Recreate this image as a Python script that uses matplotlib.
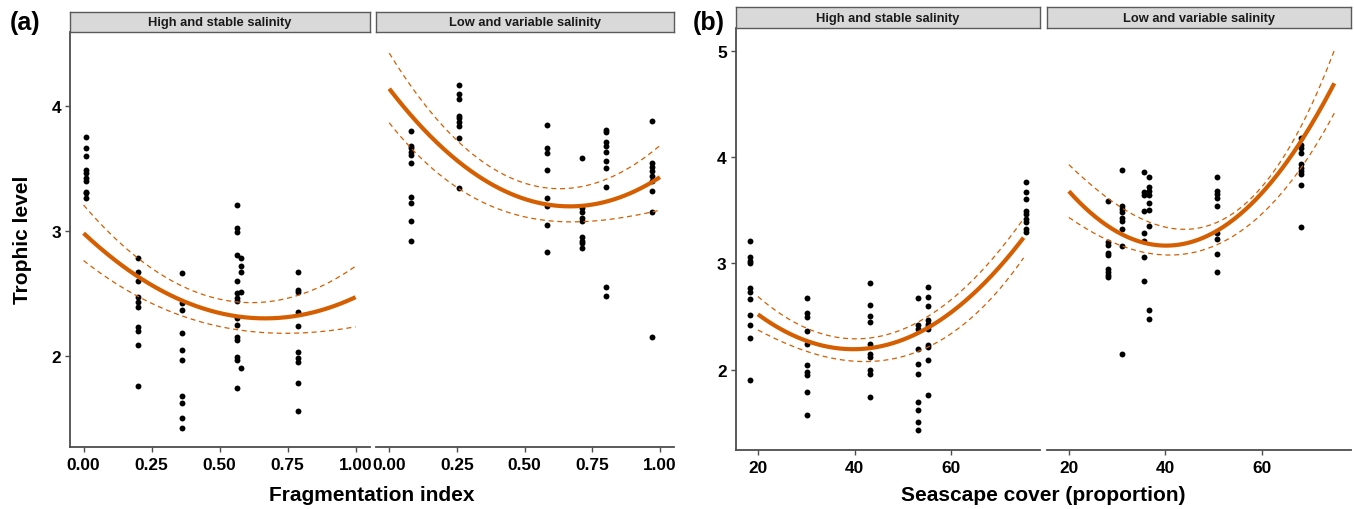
"""Trophic level vs fragmentation index and seascape cover, by salinity regime."""
import numpy as np
from matplotlib import pyplot as plt

plt.rcParams['font.family'] = ['Liberation Sans', 'DejaVu Sans']
plt.rcParams['font.weight'] = 'bold'

FIT_COLOR = '#D55E00'
AXIS_COLOR = '#4D4D4D'
STRIP_FILL = '#D9D9D9'
FIG_W, FIG_H = 1354, 510

facet_titles = ['High and stable salinity', 'Low and variable salinity']

# ---- (a) fragmentation index ----
frag_high_x = [0.01, 0.20, 0.36, 0.565, 0.577, 0.79]
frag_high_y = [
    [3.75, 3.66, 3.60, 3.49, 3.46, 3.42, 3.40, 3.31, 3.30, 3.26],
    [2.78, 2.67, 2.60, 2.47, 2.43, 2.39, 2.23, 2.20, 2.09, 1.76],
    [2.66, 2.42, 2.37, 2.18, 2.05, 1.97, 1.68, 1.62, 1.50, 1.42],
    [3.21, 3.02, 2.99, 2.81, 2.60, 2.50, 2.46, 2.44, 2.30, 2.25, 2.15, 2.13, 1.99, 1.97, 1.74],
    [2.78, 2.72, 2.67, 2.51, 1.90],
    [2.67, 2.53, 2.51, 2.35, 2.24, 2.03, 1.98, 1.95, 1.78, 1.56],
]
frag_low_x = [0.08, 0.257, 0.584, 0.712, 0.802, 0.970]
frag_low_y = [
    [3.80, 3.68, 3.66, 3.63, 3.61, 3.54, 3.27, 3.22, 3.08, 2.92],
    [4.17, 4.10, 4.06, 3.92, 3.90, 3.87, 3.84, 3.74, 3.34],
    [3.85, 3.66, 3.62, 3.49, 3.26, 3.20, 3.05, 2.83],
    [3.58, 3.18, 3.15, 3.10, 3.08, 2.95, 2.92, 2.90, 2.86],
    [3.81, 3.79, 3.71, 3.68, 3.63, 3.56, 3.50, 3.35, 2.55, 2.48],
    [3.88, 3.54, 3.51, 3.48, 3.44, 3.40, 3.32, 3.15, 2.15],
]
# fitted curve and 95% band
frag_fit_x = [0.0, 0.25, 0.5, 0.75, 1.0]
frag_high_fit = [2.98, 2.57, 2.34, 2.31, 2.47]
frag_high_upr = [3.21, 2.69, 2.47, 2.45, 2.72]
frag_high_lwr = [2.76, 2.43, 2.22, 2.19, 2.23]
frag_low_fit = [4.14, 3.56, 3.26, 3.21, 3.43]
frag_low_upr = [4.43, 3.70, 3.42, 3.35, 3.69]
frag_low_lwr = [3.86, 3.37, 3.08, 3.10, 3.16]

# ---- (b) seascape cover ----
cover_high_x = [18.3, 30.2, 43.2, 53.2, 55.2, 75.5]
cover_high_y = [
    [3.21, 3.06, 3.02, 3.00, 2.77, 2.73, 2.66, 2.51, 2.42, 2.30, 1.90],
    [2.67, 2.53, 2.49, 2.36, 2.24, 2.04, 1.98, 1.95, 1.79, 1.57],
    [2.81, 2.61, 2.50, 2.45, 2.24, 2.15, 2.12, 2.00, 1.96, 1.74],
    [2.67, 2.42, 2.38, 2.19, 2.05, 1.96, 1.69, 1.62, 1.51, 1.43],
    [2.78, 2.68, 2.60, 2.47, 2.43, 2.41, 2.38, 2.23, 2.21, 2.09, 1.76],
    [3.76, 3.67, 3.60, 3.49, 3.46, 3.42, 3.39, 3.32, 3.29],
]
cover_low_x = [28.1, 31.0, 35.5, 36.7, 50.7, 68.1]
cover_low_y = [
    [3.59, 3.20, 3.17, 3.10, 3.08, 2.95, 2.92, 2.89, 2.87],
    [3.88, 3.54, 3.51, 3.48, 3.43, 3.40, 3.32, 3.16, 2.15],
    [3.86, 3.67, 3.64, 3.49, 3.28, 3.21, 3.06, 2.83],
    [3.81, 3.72, 3.68, 3.64, 3.57, 3.50, 3.35, 2.56, 2.48],
    [3.81, 3.68, 3.65, 3.61, 3.54, 3.28, 3.23, 3.09, 2.92],
    [4.18, 4.11, 4.08, 4.04, 3.93, 3.90, 3.87, 3.84, 3.74, 3.34],
]
cover_high_fit_x = [20, 30, 40, 55, 75]
cover_high_fit = [2.52, 2.27, 2.19, 2.39, 3.24]
cover_high_upr = [2.69, 2.38, 2.30, 2.49, 3.42]
cover_high_lwr = [2.37, 2.18, 2.07, 2.21, 3.05]
cover_low_fit_x = [20, 41, 50.7, 68.1, 75]
cover_low_fit = [3.67, 3.19, 3.30, 4.11, 4.72]
cover_low_upr = [3.93, 3.30, 3.43, 4.25, 5.02]
cover_low_lwr = [3.43, 3.08, 3.17, 3.90, 4.41]


def px_axes(fig, left, right, top, bottom):
    """Add axes from pixel edges (origin top-left)."""
    return fig.add_axes([left / FIG_W, 1 - bottom / FIG_H,
                         (right - left) / FIG_W, (bottom - top) / FIG_H])


def strip(fig, left, right, top, bottom, text):
    sax = px_axes(fig, left, right, top, bottom)
    sax.set_xticks([])
    sax.set_yticks([])
    sax.set_facecolor(STRIP_FILL)
    for s in sax.spines.values():
        s.set_color('#5A5A5A')
        s.set_linewidth(1.0)
    sax.text(0.5, 0.5, text, ha='center', va='center', fontsize=9.3,
             fontweight='bold', color='#1A1A1A', transform=sax.transAxes)


def smooth(xs, ys, deg, lo, hi):
    coef = np.polyfit(xs, ys, deg)
    grid = np.linspace(lo, hi, 200)
    return grid, np.polyval(coef, grid)


def facet(ax, cols_x, cols_y, fit_x, fit, upr, lwr, xlim, ylim, first):
    for x, ys in zip(cols_x, cols_y):
        ax.scatter([x] * len(ys), ys, s=18, color='black', linewidths=0, zorder=3)
    lo, hi = fit_x[0], fit_x[-1]
    gx, gy = smooth(fit_x, fit, 2, lo, hi)
    ax.plot(gx, gy, color=FIT_COLOR, lw=3.0, solid_capstyle='butt', zorder=4)
    for band in (upr, lwr):
        bx, by = smooth(fit_x, band, 3, lo, hi)
        ax.plot(bx, by, color=FIT_COLOR, lw=0.9, ls=(0, (4, 3)), zorder=4)
    ax.set_xlim(*xlim)
    ax.set_ylim(*ylim)
    for side in ('top', 'right'):
        ax.spines[side].set_visible(False)
    ax.spines['bottom'].set_color(AXIS_COLOR)
    ax.spines['bottom'].set_linewidth(1.3)
    ax.tick_params(axis='both', colors=AXIS_COLOR, labelcolor='black',
                   labelsize=12.4, length=3.5, width=1.0)
    ax.tick_params(axis='x', pad=4)
    ax.tick_params(axis='y', pad=3)
    if first:
        ax.spines['left'].set_color(AXIS_COLOR)
        ax.spines['left'].set_linewidth(1.3)
    else:
        ax.spines['left'].set_visible(False)
        ax.tick_params(axis='y', left=False, labelleft=False)
    for lab in ax.get_xticklabels() + ax.get_yticklabels():
        lab.set_fontweight('bold')


def main():
    fig = plt.figure(figsize=(FIG_W / 100, FIG_H / 100), dpi=100)
    fig.patch.set_facecolor('white')

    # panel (a)
    a_xlim, a_ylim = (-0.05, 1.053), (1.27, 4.59)
    a_ticks = [0.0, 0.25, 0.5, 0.75, 1.0]
    a_specs = [
        (70, 370, frag_high_x, frag_high_y, frag_high_fit, frag_high_upr, frag_high_lwr),
        (375.7, 674.3, frag_low_x, frag_low_y, frag_low_fit, frag_low_upr, frag_low_lwr),
    ]
    for i, (l, r, cx, cy, f, u, lw) in enumerate(a_specs):
        ax = px_axes(fig, l, r, 33.3, 448)
        facet(ax, cx, cy, frag_fit_x, f, u, lw, a_xlim, a_ylim, i == 0)
        ax.set_xticks(a_ticks)
        ax.set_xticklabels(['%.2f' % t for t in a_ticks], fontweight='bold')
        ax.set_yticks([2, 3, 4])
        strip(fig, l, r, 13.3, 33.3, facet_titles[i])

    # panel (b)
    b_xlim, b_ylim = (15.4, 78.4), (1.246, 5.21)
    b_specs = [
        (735.7, 1040, cover_high_x, cover_high_y, cover_high_fit_x,
         cover_high_fit, cover_high_upr, cover_high_lwr),
        (1046.7, 1350.7, cover_low_x, cover_low_y, cover_low_fit_x,
         cover_low_fit, cover_low_upr, cover_low_lwr),
    ]
    for i, (l, r, cx, cy, fx, f, u, lw) in enumerate(b_specs):
        ax = px_axes(fig, l, r, 29.3, 450.7)
        facet(ax, cx, cy, fx, f, u, lw, b_xlim, b_ylim, i == 0)
        ax.set_xticks([20, 40, 60])
        ax.set_xticklabels(['20', '40', '60'], fontweight='bold')
        ax.set_yticks([2, 3, 4, 5])
        strip(fig, l, r, 8.3, 29.3, facet_titles[i])

    fig.text(23 / FIG_W, 1 - 240 / FIG_H, 'Trophic level', rotation=90,
             ha='center', va='center', fontsize=15, fontweight='bold')
    fig.text(372 / FIG_W, 1 - 496 / FIG_H, 'Fragmentation index',
             ha='center', va='center', fontsize=15, fontweight='bold')
    fig.text(1043 / FIG_W, 1 - 496 / FIG_H, 'Seascape cover (proportion)',
             ha='center', va='center', fontsize=15, fontweight='bold')
    fig.text(10 / FIG_W, 1 - 23 / FIG_H, '(a)', ha='left', va='center',
             fontsize=18, fontweight='bold')
    fig.text(693 / FIG_W, 1 - 23 / FIG_H, '(b)', ha='left', va='center',
             fontsize=18, fontweight='bold')

    plt.savefig('out.png', dpi=100)


if __name__ == "__main__":
    main()
